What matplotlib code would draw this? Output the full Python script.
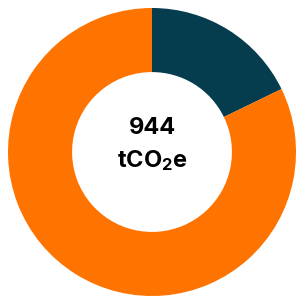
import matplotlib
matplotlib.use("Agg")
import matplotlib.pyplot as plt

# data
labels = ["Scope A", "Scope B"]
values = [168, 776]
colors = ["#053d4f", "#ff7300"]
total_label = "944"
unit_label = "tCO$_2$e"

plt.rcParams['font.family'] = ['Inter', 'DejaVu Sans']
plt.rcParams['mathtext.fontset'] = 'custom'
plt.rcParams['mathtext.rm'] = 'Inter:bold'
plt.rcParams['mathtext.it'] = 'Inter:bold'
plt.rcParams['mathtext.bf'] = 'Inter:bold'

fig = plt.figure(figsize=(2.97, 2.97), dpi=100)
ax = fig.add_axes([0, 0, 1, 1])

ax.pie(values, colors=colors, startangle=90, counterclock=False,
       radius=1.0, wedgeprops=dict(width=0.445, edgecolor='none'))

ax.set_aspect('equal')
ax.set_xlim(-152 / 144, 145 / 144)
ax.set_ylim(-145 / 144, 152 / 144)
ax.axis('off')

ax.text(0, 0.17, total_label, ha='center', va='center', fontsize=17,
        fontweight='bold', color='black')
ax.text(0, -0.06, unit_label, ha='center', va='center', fontsize=17,
        fontweight='bold', color='black')

fig.savefig("out.png", dpi=100, facecolor='white')
